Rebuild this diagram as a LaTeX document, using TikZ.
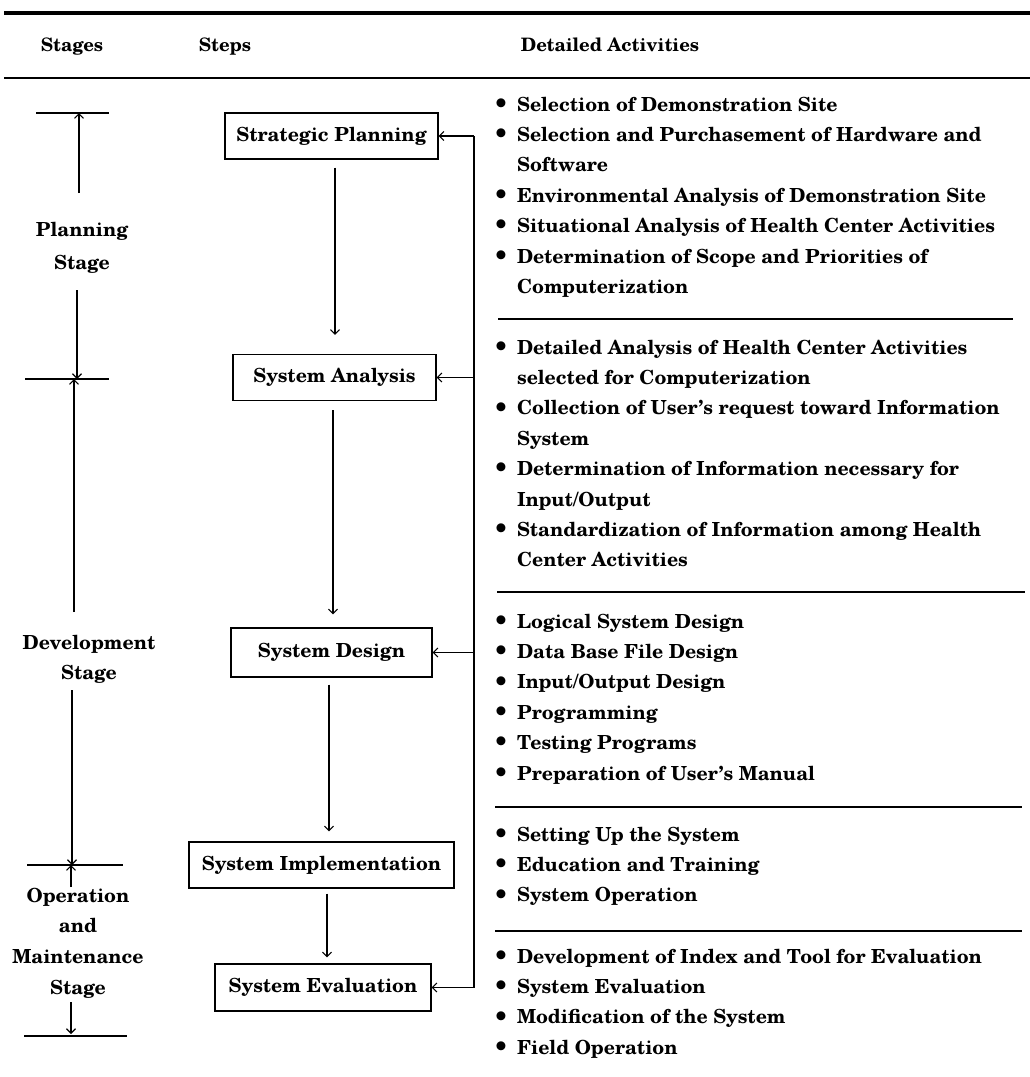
\documentclass[tikz,border=0pt]{standalone}
\usepackage{fontspec}
\setmainfont{texgyreschola}[Extension=.otf,UprightFont=*-bold,BoldFont=*-bold,ItalicFont=*-bolditalic,BoldItalicFont=*-bolditalic]
\usetikzlibrary{arrows.meta}
\newcommand{\bigbul}{\raisebox{-1.2pt}{\scalebox{1.35}{\textbullet}}}
\begin{document}
\begin{tikzpicture}[x=1pt,y=-1pt,
  every node/.style={inner sep=0pt, font=\fontsize{19.4}{30.4}\selectfont},
  stepbox/.style={draw, line width=1.3pt, inner sep=0pt, minimum height=46pt},
  arr/.style={-{Straight Barb[length=4.5pt,width=9pt]}, line width=1.1pt},
  plainline/.style={line width=1.3pt},
  rulethin/.style={line width=2pt},
  rulethick/.style={line width=3.5pt},
  stagelbl/.style={align=center},
  hdr/.style={anchor=base, font=\fontsize{18.5}{22}\selectfont},
  group/.style={anchor=base west}
]
\useasboundingbox (0,0) rectangle (1030,1077);

% header
\draw[rulethick] (4,13) -- (1030,13);
\node[hdr] (hStages) at (72,51) {Stages};
\node[hdr] (hSteps) at (225,51) {Steps};
\node[hdr] (hAct) at (610,51) {Detailed Activities};
\draw[rulethin] (4,78) -- (1030,78);

% stage column
\coordinate (pTop) at (79,113);
\coordinate (pUp) at (79,193);
\coordinate (pDn) at (77,290);
\coordinate (pBot) at (77,379);
\draw[plainline] (36,113) -- (109,113);
\draw[arr] (pUp) -- (pTop);
\node[stagelbl, font=\fontsize{19.4}{33}\selectfont] (planning) at (82,248) {Planning\\Stage};
\draw[arr] (pDn) -- (pBot);
\draw[plainline] (25,379) -- (109,379);

\coordinate (dTop) at (74,379);
\coordinate (dUp) at (74,612);
\coordinate (dDn) at (72,690);
\coordinate (dBot) at (72,865);
\draw[arr] (dUp) -- (dTop);
\node[stagelbl, font=\fontsize{19.4}{30}\selectfont] (development) at (89,659) {Development\\Stage};
\draw[arr] (dDn) -- (dBot);
\draw[plainline] (27,865) -- (123,865);

\coordinate (oTop) at (71,865);
\coordinate (oUp) at (71,887);
\coordinate (oDn) at (71,1002);
\coordinate (oBot) at (71,1034);
\draw[arr] (oUp) -- (oTop);
\node[stagelbl, font=\fontsize{19.4}{30.7}\selectfont] (operation) at (78,943) {Operation\\and\\Maintenance\\Stage};
\draw[arr] (oDn) -- (oBot);
\draw[plainline] (24,1036) -- (127,1036);

% steps
\node[stepbox, minimum width=213pt] (SP) at (331.5,136) {Strategic Planning};
\node[stepbox, minimum width=203pt] (SA) at (334.5,377.5) {System Analysis};
\node[stepbox, minimum width=201pt, minimum height=49pt] (SD) at (331.5,652.5) {System Design};
\node[stepbox, minimum width=265pt] (SI) at (321.5,865) {System Implementation};
\node[stepbox, minimum width=216pt, minimum height=47pt] (SE) at (323,987.5) {System Evaluation};

\coordinate (a1) at ([xshift=3.5pt]SP.south);
\coordinate (a2) at ([xshift=-1.5pt]SA.south);
\coordinate (a3) at ([xshift=-2.5pt]SD.south);
\coordinate (a4) at ([xshift=5.5pt]SI.south);
\draw[arr, shorten <=8pt, shorten >=19pt] (a1) -- (a1 |- SA.north);
\draw[arr, shorten <=9pt, shorten >=13pt] (a2) -- (a2 |- SD.north);
\draw[arr, shorten <=7pt, shorten >=10pt] (a3) -- (a3 |- SI.north);
\draw[arr, shorten <=5pt, shorten >=6pt] (a4) -- (a4 |- SE.north);

% feedback bus
\coordinate (bus) at (474,0);
\coordinate (fb1) at (SP.east -| bus);
\coordinate (fb2) at (SA.east -| bus);
\coordinate (fb3) at (SD.east -| bus);
\coordinate (fb4) at (SE.east -| bus);
\draw[plainline] (fb1) -- (fb4);
\draw[arr] (fb1) -- (SP.east);
\draw[arr] (fb2) -- (SA.east);
\draw[arr] (fb3) -- (SD.east);
\draw[arr] (fb4) -- (SE.east);

% activities
\node[group] (g1) at (493,111) {\begin{tabular}[t]{@{}c@{\hspace{8pt}}l@{}}
\bigbul & Selection of Demonstration Site\\
\bigbul & Selection and Purchasement of Hardware and\\
 & Software\\
\bigbul & Environmental Analysis of Demonstration Site\\
\bigbul & Situational Analysis of Health Center Activities\\
\bigbul & Determination of Scope and Priorities of\\
 & Computerization
\end{tabular}};
\draw[rulethin] (498,319) -- (1013,319);

\node[group] (g2) at (493,354) {\begin{tabular}[t]{@{}c@{\hspace{8pt}}l@{}}
\bigbul & Detailed Analysis of Health Center Activities\\
 & selected for Computerization\\
\bigbul & Collection of User’s request toward Information\\
 & System\\
\bigbul & Determination of Information necessary for\\
 & Input/Output\\
\bigbul & Standardization of Information among Health\\
 & Center Activities
\end{tabular}};
\draw[rulethin] (497,592) -- (1025,592);

\node[group] (g3) at (493,628) {\begin{tabular}[t]{@{}c@{\hspace{8pt}}l@{}}
\bigbul & Logical System Design\\
\bigbul & Data Base File Design\\
\bigbul & Input/Output Design\\
\bigbul & Programming\\
\bigbul & Testing Programs\\
\bigbul & Preparation of User’s Manual
\end{tabular}};
\draw[rulethin] (495,807) -- (1022,807);

\node[group] (g4) at (493,841) {\begin{tabular}[t]{@{}c@{\hspace{8pt}}l@{}}
\bigbul & Setting Up the System\\
\bigbul & Education and Training\\
\bigbul & System Operation
\end{tabular}};
\draw[rulethin] (495,931) -- (1022,931);

\node[group] (g5) at (493,963) {\begin{tabular}[t]{@{}c@{\hspace{8pt}}l@{}}
\bigbul & Development of Index and Tool for Evaluation\\
\bigbul & System Evaluation\\
\bigbul & Modification of the System\\
\bigbul & Field Operation
\end{tabular}};
\end{tikzpicture}
\end{document}
